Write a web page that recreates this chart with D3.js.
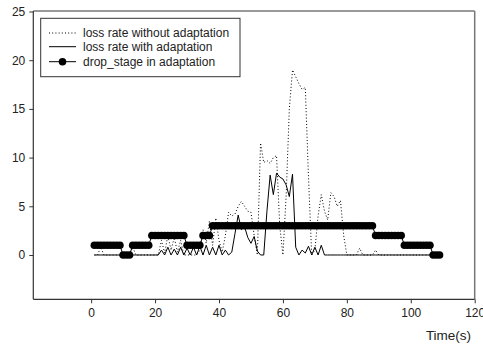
<!DOCTYPE html>
<html><head><meta charset="utf-8">
<script src="https://cdn.jsdelivr.net/npm/d3@7"></script>
<style>
html,body{margin:0;padding:0;background:#fff;}
svg{display:block;font-family:"Liberation Sans",Arial,sans-serif;}
</style></head>
<body><svg id="c" width="483" height="345"></svg>
<script>
const xTicks = [0,20,40,60,80,100,120];
const yTicks = [0,5,10,15,20,25];
const seriesNames = ["loss rate without adaptation","loss rate with adaptation","drop_stage in adaptation"];
const xLabel = "Time(s)";

// loss rate without adaptation, t = 1..107
const lossWithout = [0,0,0.8,0,0,0,0,0,0,0,
 0,0,0.8,0,0,0,0,0,0,0,
 0,1.5,0.2,2.0,0.5,1.8,0.3,1.5,0,0,
 0,0,0,0.5,2.6,1.2,3.5,1.0,3.8,1.5,
 0.3,2.0,4.4,4.0,4.2,5.0,5.5,5.0,4.5,4.4,
 2.0,0,11.5,9.5,9.7,9.4,10.0,10.2,3.0,0,
 6.0,15.0,19.0,18.3,17.6,17.0,17.2,8.0,0,0.5,
 4.0,6.2,4.5,3.6,6.4,6.0,5.0,5.6,2.0,0,
 0,0,0,0.7,0,0,0,0,0.5,0,
 0,0,0,0,0,0,0,0,0,0,
 0,0,0,0,0,0,0];
// loss rate with adaptation, t = 1..107
const lossWith = [0,0,0,0,0,0,0,0,0,0,
 0,0,0,0,0,0,0,0,0,0,
 0,0.5,0,0.8,0,0.6,0,0.8,0,0.7,
 0,0.8,0,0.9,0,1.0,0,0.8,0,1.0,
 0,0.5,0,0.3,2.2,4.1,2.6,2.9,1.8,1.2,
 1.9,0.4,0,0,4.5,8.2,6.2,8.4,8.0,7.8,
 7.2,6.0,8.3,0.8,0,0.5,0.2,0.9,0,0.8,
 0,1.0,0,0,0,0,0,0,0,0,
 0,0,0,0,0,0,0,0,0,0,
 0,0,0,0,0,0,0,0,0,0,
 0,0,0,0,0,0,0];
// drop stage, t = 1..109
const dropStage = [1,1,1,1,1,1,1,1,1,0,
 0,0,1,1,1,1,1,1,2,2,
 2,2,2,2,2,2,2,2,2,1,
 1,1,1,1,2,2,2,3,3,3,
 3,3,3,3,3,3,3,3,3,3,
 3,3,3,3,3,3,3,3,3,3,
 3,3,3,3,3,3,3,3,3,3,
 3,3,3,3,3,3,3,3,3,3,
 3,3,3,3,3,3,3,3,2,2,
 2,2,2,2,2,2,2,1,1,1,
 1,1,1,1,1,1,0,0,0];

const svg = d3.select("#c");
const L=33.3, R=474.7, T=11.5, B=299.3;
const x = d3.scaleLinear().domain([-18.1,120]).range([L,R]);
const y = d3.scaleLinear().domain([-4.55,25]).range([B,T]);

// frame top/right
svg.append("line").attr("x1",L).attr("x2",R).attr("y1",T-0.5).attr("y2",T-0.5).attr("stroke","#777").attr("stroke-width",1.5);
svg.append("line").attr("x1",R).attr("x2",R).attr("y1",T-0.5).attr("y2",B).attr("stroke","#777").attr("stroke-width",1.5);

const yAxis = d3.axisLeft(y).tickValues(yTicks).tickSize(4).tickPadding(4);
const gy = svg.append("g").attr("transform",`translate(${L},0)`).call(yAxis);
const xAxis = d3.axisBottom(x).tickValues(xTicks).tickSize(4).tickPadding(5);
const gx = svg.append("g").attr("transform",`translate(0,${B})`).call(xAxis);
[gy,gx].forEach(g=>{
  g.select(".domain").attr("stroke","#333").attr("stroke-width",1.2);
  g.selectAll(".tick line").attr("stroke","#333");
  g.selectAll("text").attr("fill","#222").style("font-size","12px").style("font-family","Liberation Sans, Arial, sans-serif");
});
gy.select(".domain").attr("d",`M0,${T-0.5}V${B}`);
gx.select(".domain").attr("d",`M${L},0H${R}`);

svg.append("text").attr("x",448.5).attr("y",340).attr("text-anchor","middle")
  .style("font-size","13.5px").attr("fill","#222").text(xLabel);

const tW = d3.range(1, lossWithout.length+1);
const tS = d3.range(1, dropStage.length+1);
const line = d3.line().x(d=>x(d[0])).y(d=>y(d[1]));

svg.append("path").datum(tW.map((t,i)=>[t,lossWithout[i]])).attr("d",line)
  .attr("fill","none").attr("stroke","#000").attr("stroke-width",1).attr("stroke-dasharray","1,2.2");
svg.append("path").datum(tW.map((t,i)=>[t,lossWith[i]])).attr("d",line)
  .attr("fill","none").attr("stroke","#000").attr("stroke-width",1);
const stageData = tS.map((t,i)=>[t,dropStage[i]]);
svg.append("path").datum(stageData).attr("d",line)
  .attr("fill","none").attr("stroke","#000").attr("stroke-width",1);
svg.append("g").selectAll("circle").data(stageData).join("circle")
  .attr("cx",d=>x(d[0])).attr("cy",d=>y(d[1])).attr("r",3.8).attr("fill","#000");

// legend
const lg = svg.append("g");
lg.append("rect").attr("x",40.7).attr("y",18.3).attr("width",199.3).attr("height",58.4)
  .attr("fill","#fff").attr("stroke","#333").attr("stroke-width",1);
const rows=[33,46.7,61.7];
seriesNames.forEach((n,i)=>{
  const ln = lg.append("line").attr("x1",49).attr("x2",76).attr("y1",rows[i]).attr("y2",rows[i])
    .attr("stroke","#000").attr("stroke-width",1);
  if(i===0) ln.attr("stroke-dasharray","1,2.2");
  if(i===2) lg.append("circle").attr("cx",62.5).attr("cy",rows[i]).attr("r",3.8).attr("fill","#000");
  lg.append("text").attr("x",83).attr("y",rows[i]+4.3).style("font-size","12px").attr("fill","#222").text(n);
});
</script></body></html>
